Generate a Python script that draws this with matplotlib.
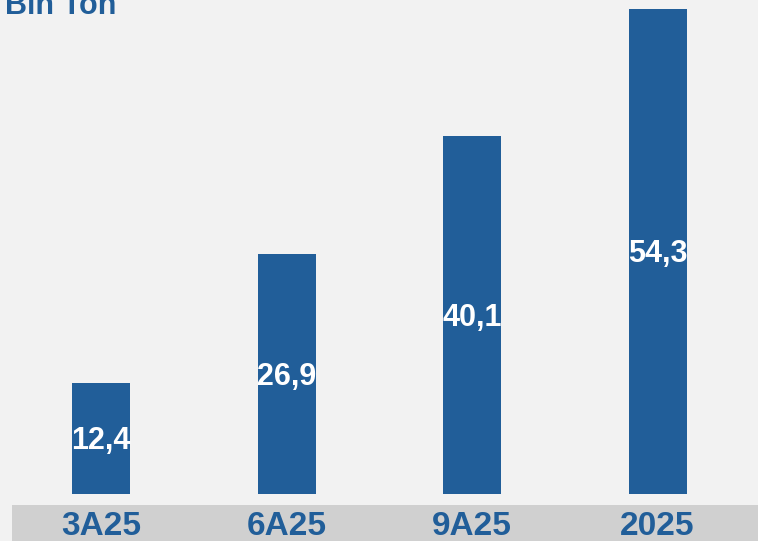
import matplotlib
matplotlib.use('Agg')
import matplotlib.pyplot as plt
from matplotlib.patches import Rectangle

# Chart data
periods = ['3A25', '6A25', '9A25', '2025']
values = [12.4, 26.9, 40.1, 54.3]
title = 'Bin Ton'

blue = '#215e99'
bg = '#f2f2f2'
band = '#d0d0d0'

W, H = 758, 541
fig = plt.figure(figsize=(W / 100, H / 100), dpi=100)
fig.patch.set_facecolor(bg)

# gray band behind the category labels (drawn below the axes)
fig.patches.append(Rectangle((12 / W, 0), 1, 36 / H, transform=fig.transFigure,
                             facecolor=band, edgecolor='none', zorder=-1))

# axes placed so the baseline sits at pixel row 494
ax = fig.add_axes([0, (H - 494) / H, 1, 494 / H])
ax.set_facecolor('none')
step = 185.5
ax.set_xlim(-101 / step, (W - 101) / step)
ax.set_ylim(0, 494 / 8.93)

x = range(len(periods))
bars = ax.bar(x, values, width=58 / step, color=blue, zorder=2)

for b, v in zip(bars, values):
    ax.annotate(f'{v:.1f}'.replace('.', ','),
                (b.get_x() + b.get_width() / 2, v / 2),
                xytext=(0, -2), textcoords='offset points',
                ha='center', va='center', color='white', fontsize=22,
                fontweight='bold', family='Liberation Sans', zorder=3)

ax.set_xticks(list(x))
ax.set_xticklabels(periods, fontsize=24, fontweight='bold', color=blue,
                   family='Liberation Sans')
ax.tick_params(axis='x', length=0, pad=12)
ax.set_yticks([])
for s in ax.spines.values():
    s.set_visible(False)

fig.text(5 / W, 1 - 14 / H, title, ha='left', va='baseline', color=blue,
         fontsize=22, fontweight='bold', family='Liberation Sans')

fig.savefig('out.png', dpi=100, facecolor=bg)
